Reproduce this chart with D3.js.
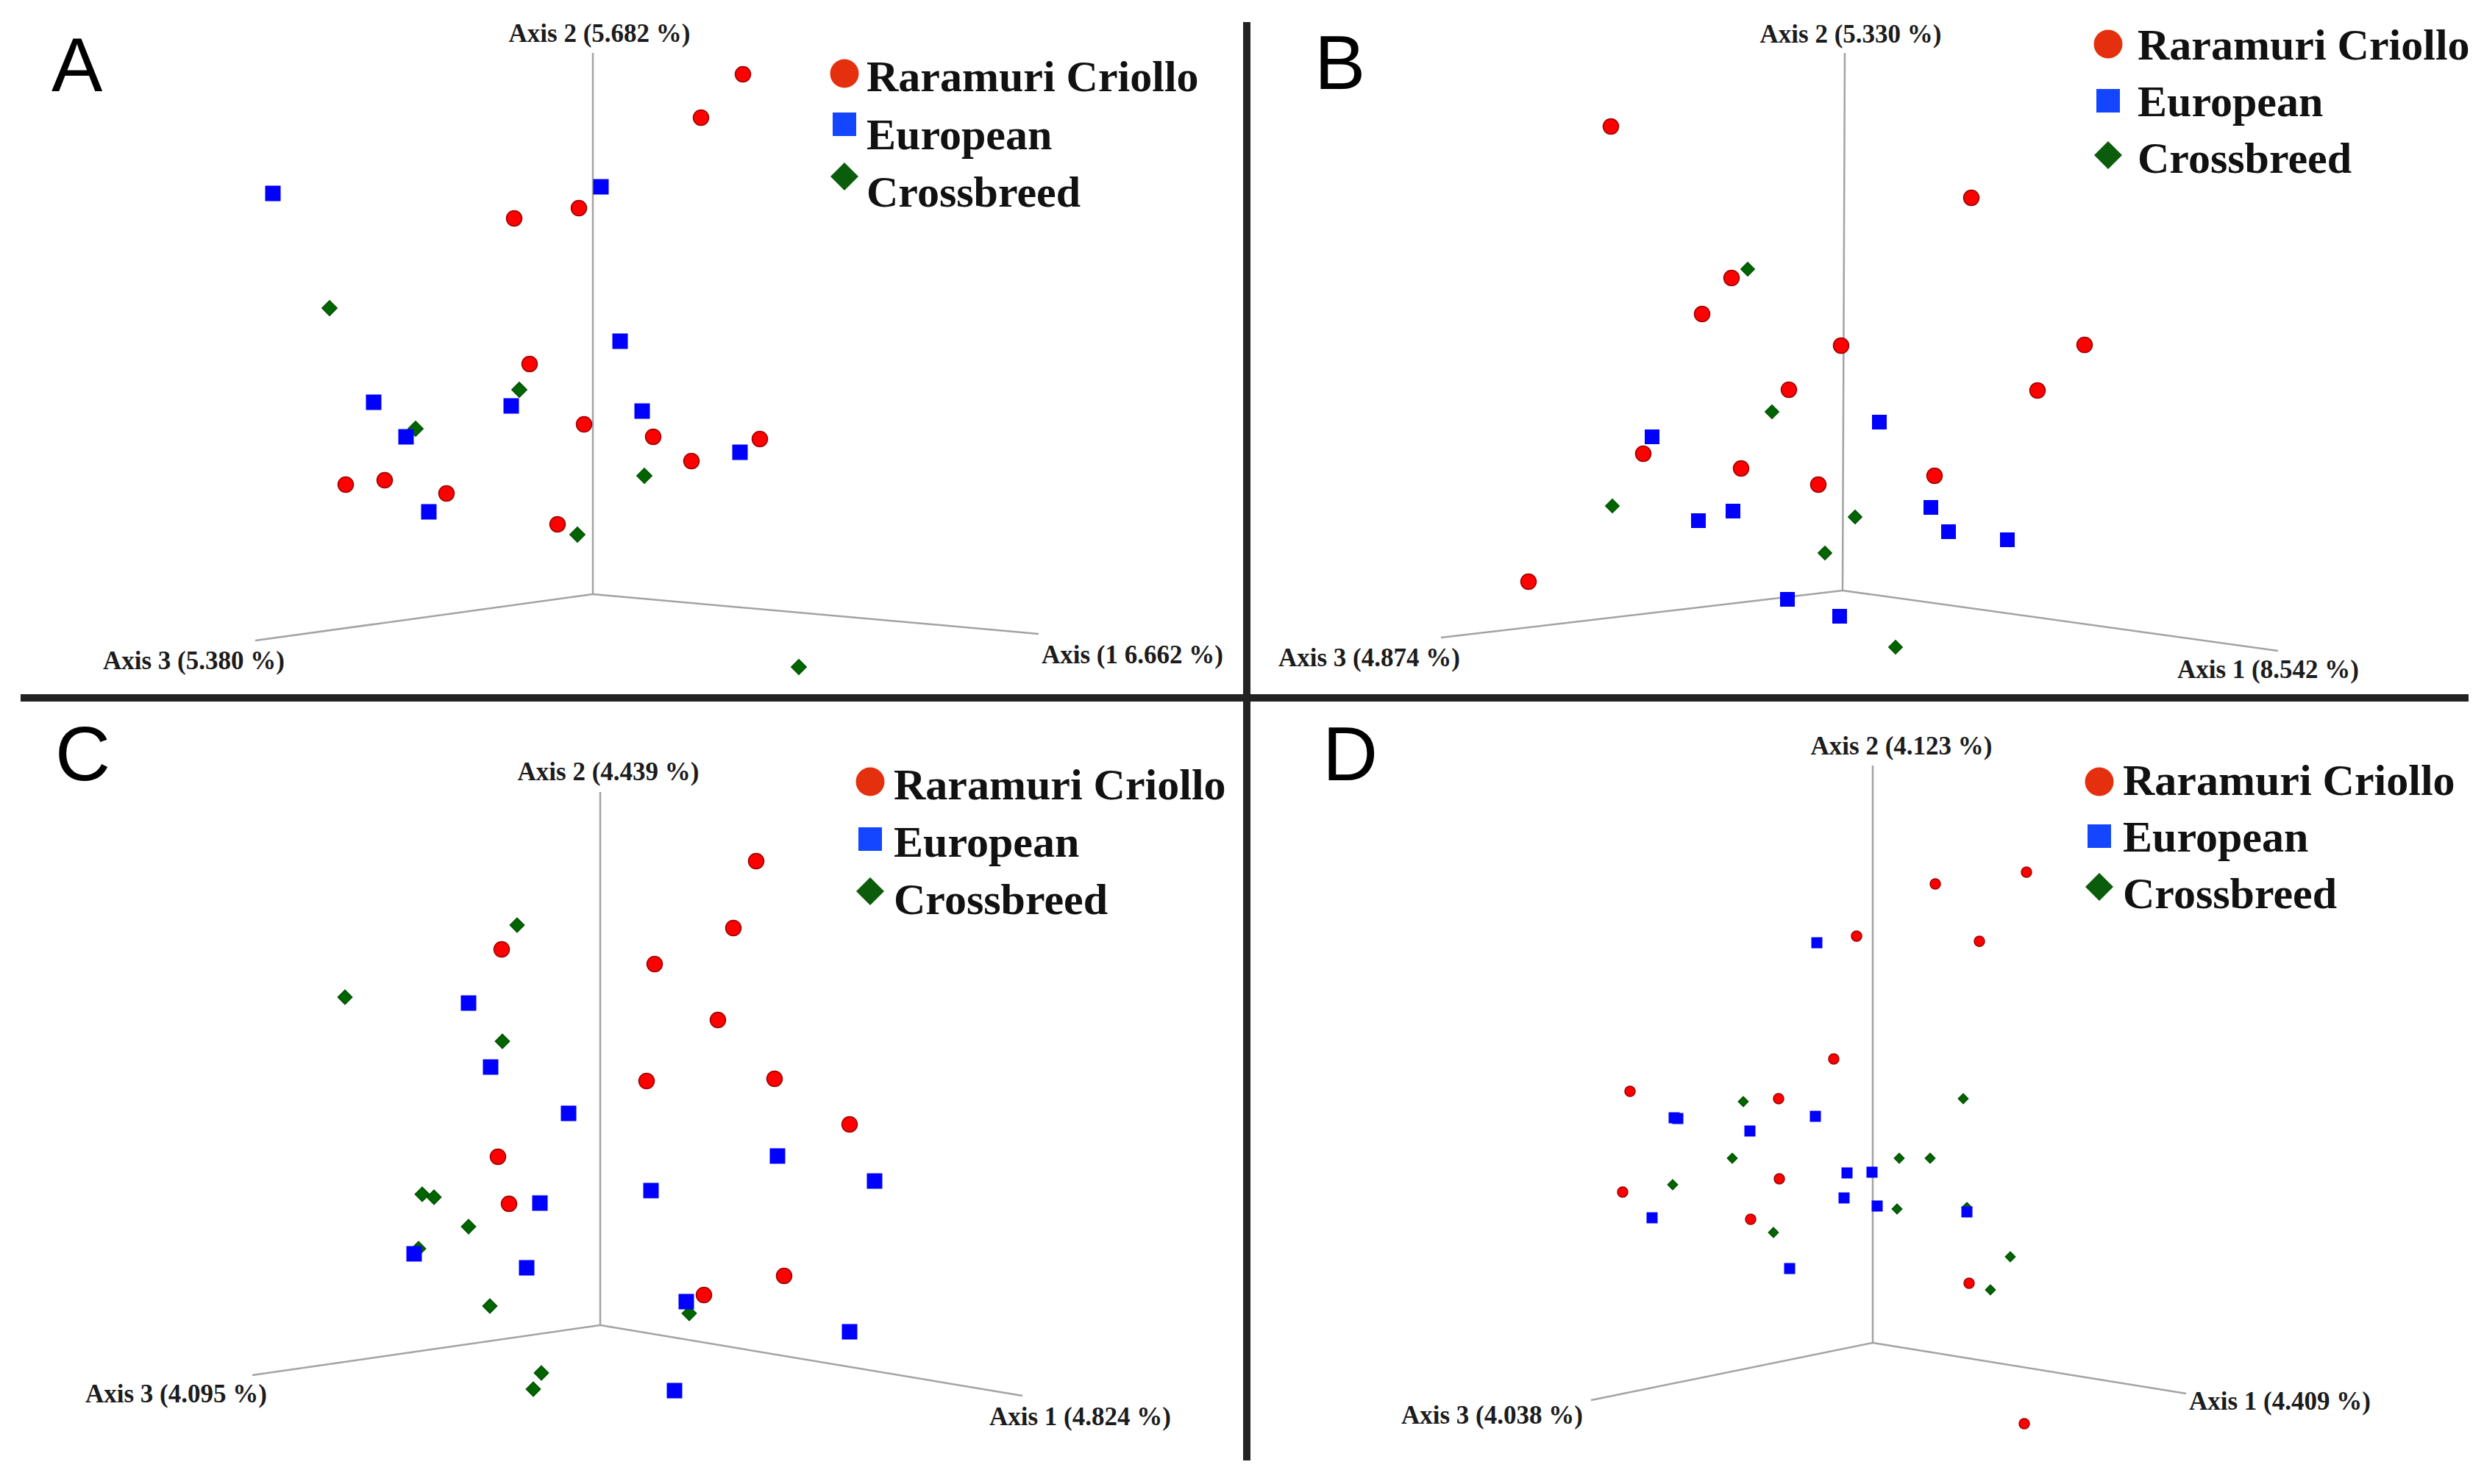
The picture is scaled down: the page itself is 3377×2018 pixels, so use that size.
<!DOCTYPE html>
<html>
<head>
<meta charset="utf-8">
<script src="https://cdn.jsdelivr.net/npm/d3@7"></script>
<style>
  body { margin: 0; background: #fff; }
</style>
</head>
<body>
<svg id="chart"></svg>
<script>
const groups = ["Raramuri Criollo", "European", "Crossbreed"];
const panelLetters = ["A", "B", "C", "D"];
const axis1Labels = ["Axis (1 6.662 %)", "Axis 1 (8.542 %)", "Axis 1 (4.824 %)", "Axis 1 (4.409 %)"];
const axis2Labels = ["Axis 2 (5.682 %)", "Axis 2 (5.330 %)", "Axis 2 (4.439 %)", "Axis 2 (4.123 %)"];
const axis3Labels = ["Axis 3 (5.380 %)", "Axis 3 (4.874 %)", "Axis 3 (4.095 %)", "Axis 3 (4.038 %)"];

// projected end points of the three PCoA axes (origin = 0,0)
const axis1Ends = [[6.06, -0.54], [5.92, -0.82], [5.74, -0.96], [4.26, -0.69]];
const axis2Ends = [[0, 7.36], [0.03, 7.31], [0, 7.25], [0, 7.85]];
const axis3Ends = [[-4.59, -0.63], [-5.46, -0.64], [-4.73, -0.68], [-3.83, -0.78]];

// projected scores, panel A
const criolloA = [[2.04, 7.07], [1.47, 6.48], [-0.19, 5.25], [-1.07, 5.11], [-0.86, 3.13], [-0.12, 2.31],
  [0.82, 2.14], [2.27, 2.11], [1.34, 1.81], [-3.36, 1.49], [-2.83, 1.55], [-1.99, 1.37], [-0.48, 0.95]];
const europeanA = [[-4.35, 5.45], [0.11, 5.54], [0.37, 3.44], [-2.98, 2.61], [-1.11, 2.56], [0.67, 2.49],
  [-2.54, 2.14], [2.00, 1.93], [-2.23, 1.12]];
const crossA = [[-3.58, 3.89], [-1.00, 2.78], [-2.41, 2.25], [0.70, 1.61], [-0.21, 0.81], [2.80, -0.99]];

// panel B
const criolloB = [[-3.15, 6.31], [1.75, 5.34], [-1.51, 4.25], [-1.91, 3.76], [-0.02, 3.33], [3.29, 3.34],
  [-0.73, 2.73], [2.65, 2.72], [-2.71, 1.86], [-1.38, 1.66], [-0.33, 1.44], [1.25, 1.56], [-4.27, 0.12]];
const europeanB = [[-2.59, 2.09], [0.50, 2.29], [-1.96, 0.95], [-1.49, 1.08], [1.20, 1.13], [1.44, 0.80],
  [2.24, 0.69], [-0.75, -0.12], [-0.04, -0.35]];
const crossB = [[-1.29, 4.37], [-0.96, 2.43], [-3.13, 1.15], [0.17, 1.00], [-0.24, 0.51], [0.72, -0.77]];

// panel C
const criolloC = [[2.12, 6.31], [1.81, 5.40], [-1.34, 5.11], [0.74, 4.91], [1.60, 4.15], [0.63, 3.32],
  [2.37, 3.35], [3.39, 2.73], [-1.39, 2.29], [-1.24, 1.65], [2.50, 0.67], [1.41, 0.41]];
const europeanC = [[-1.79, 4.38], [-1.49, 3.51], [-0.43, 2.88], [2.41, 2.30], [3.73, 1.96], [0.69, 1.83],
  [-0.82, 1.66], [-2.53, 0.97], [-1.00, 0.78], [1.17, 0.32], [3.39, -0.09], [1.01, -0.89]];
const crossC = [[-1.13, 5.44], [-3.47, 4.46], [-1.33, 3.86], [-2.42, 1.78], [-2.26, 1.74], [-1.79, 1.34],
  [-2.47, 1.04], [-1.50, 0.26], [1.21, 0.16], [-0.80, -0.65], [-0.91, -0.87]];

// panel D
const criolloD = [[2.09, 6.40], [0.85, 6.24], [-0.22, 5.53], [1.45, 5.46], [-0.53, 3.86], [-3.30, 3.42],
  [-1.28, 3.32], [-1.27, 2.23], [-3.40, 2.05], [-1.66, 1.68], [1.31, 0.81], [2.06, -1.10]];
const europeanD = [[-0.76, 5.44], [-2.70, 3.06], [-2.65, 3.05], [-0.78, 3.08], [-1.67, 2.88], [-0.35, 2.31],
  [-0.01, 2.32], [-0.39, 1.97], [0.06, 1.86], [1.28, 1.78], [-3.00, 1.70], [-1.13, 1.01]];
const crossD = [[1.23, 3.32], [-1.76, 3.28], [-1.91, 2.51], [0.36, 2.51], [0.78, 2.51], [-2.72, 2.15],
  [0.33, 1.82], [-1.35, 1.50], [1.87, 1.17], [1.60, 0.72], [1.28, 1.84]];

const criollo = [criolloA, criolloB, criolloC, criolloD];
const european = [europeanA, europeanB, europeanC, europeanD];
const cross = [crossA, crossB, crossC, crossD];

const width = 3377;
const height = 2018;

// layout of each panel: axis origin, marker sizes, label spots
const panels = [
  { ox: 806, oy: 808, r: 10.5, sq: 21, dia: 21,
    letter: [70, 124], a2: [815, 57], a3: [140, 910], a1: [1416, 902],
    legX: 1148, legTextX: 1178, legY: [100, 169, 240], legBase: [124, 203, 281] },
  { ox: 2505, oy: 803, r: 10.5, sq: 20, dia: 19,
    letter: [1787, 121], a2: [2516, 58], a3: [1738, 906], a1: [2960, 922],
    legX: 2866, legTextX: 2906, legY: [60, 137, 211], legBase: [81, 158, 235] },
  { ox: 816, oy: 1802, r: 10.5, sq: 21, dia: 20,
    letter: [75, 1061], a2: [827, 1061], a3: [116, 1907], a1: [1345, 1938],
    legX: 1183, legTextX: 1215, legY: [1063, 1141, 1212], legBase: [1087, 1165, 1243] },
  { ox: 2546, oy: 1826, r: 7, sq: 15, dia: 14,
    letter: [1798, 1061], a2: [2585, 1026], a3: [1905, 1936], a1: [2976, 1917],
    legX: 2854, legTextX: 2886, legY: [1063, 1137, 1206], legBase: [1081, 1158, 1235] },
];

const colors = { red: "#ff0000", redStroke: "#9a0000", blue: "#0000ff", green: "#006400", greenStroke: "#004a00" };
const legendColors = ["#e5300f", "#1446ff", "#0b5d0b"];
const serif = "'Liberation Serif', 'Times New Roman', serif";

const svg = d3.select("#chart")
  .attr("width", width)
  .attr("height", height)
  .attr("viewBox", [0, 0, width, height])
  .style("background", "#fff");

panels.forEach((p, i) => {
  const x = d3.scaleLinear().domain([-1, 1]).range([p.ox - 100, p.ox + 100]);
  const y = d3.scaleLinear().domain([-1, 1]).range([p.oy + 100, p.oy - 100]);
  const g = svg.append("g").attr("class", "panel-" + panelLetters[i]);

  // 3d axes
  g.append("g")
    .attr("stroke", "#a3a3a3")
    .attr("stroke-width", 2.5)
    .selectAll("line")
    .data([axis1Ends[i], axis2Ends[i], axis3Ends[i]])
    .join("line")
    .attr("x1", x(0))
    .attr("y1", y(0))
    .attr("x2", (d) => x(d[0]))
    .attr("y2", (d) => y(d[1]));

  // crossbreed
  g.append("g")
    .selectAll("path")
    .data(cross[i])
    .join("path")
    .attr("d", d3.symbol(d3.symbolSquare, (p.dia * p.dia) / 2))
    .attr("transform", (d) => `translate(${x(d[0])},${y(d[1])}) rotate(45)`)
    .attr("fill", colors.green)
    .attr("stroke", colors.greenStroke)
    .attr("stroke-width", 1);

  // raramuri criollo
  g.append("g")
    .selectAll("circle")
    .data(criollo[i])
    .join("circle")
    .attr("cx", (d) => x(d[0]))
    .attr("cy", (d) => y(d[1]))
    .attr("r", p.r)
    .attr("fill", colors.red)
    .attr("stroke", colors.redStroke)
    .attr("stroke-width", 1.5);

  // european
  g.append("g")
    .selectAll("rect")
    .data(european[i])
    .join("rect")
    .attr("x", (d) => x(d[0]) - p.sq / 2)
    .attr("y", (d) => y(d[1]) - p.sq / 2)
    .attr("width", p.sq)
    .attr("height", p.sq)
    .attr("fill", colors.blue);

  // axis titles
  const labels = g.append("g")
    .attr("font-family", serif)
    .attr("font-weight", "bold")
    .attr("font-size", 35)
    .attr("fill", "#1c1c1c");
  labels.append("text").attr("x", p.a2[0]).attr("y", p.a2[1]).attr("text-anchor", "middle").text(axis2Labels[i]);
  labels.append("text").attr("x", p.a3[0]).attr("y", p.a3[1]).text(axis3Labels[i]);
  labels.append("text").attr("x", p.a1[0]).attr("y", p.a1[1]).text(axis1Labels[i]);

  // panel letter
  g.append("text")
    .attr("x", p.letter[0])
    .attr("y", p.letter[1])
    .attr("font-family", "'Liberation Sans', Arial, sans-serif")
    .attr("font-size", 104)
    .attr("fill", "#000")
    .text(panelLetters[i]);

  // legend
  const leg = g.append("g");
  leg.append("circle").attr("cx", p.legX).attr("cy", p.legY[0]).attr("r", 19.5).attr("fill", legendColors[0]);
  leg.append("rect")
    .attr("x", p.legX - 16).attr("y", p.legY[1] - 16)
    .attr("width", 32).attr("height", 32)
    .attr("fill", legendColors[1]);
  leg.append("path")
    .attr("d", d3.symbol(d3.symbolSquare, (38 * 38) / 2))
    .attr("transform", `translate(${p.legX},${p.legY[2]}) rotate(45)`)
    .attr("fill", legendColors[2]);
  leg.selectAll("text")
    .data(groups)
    .join("text")
    .attr("x", p.legTextX)
    .attr("y", (d, k) => p.legBase[k])
    .attr("font-family", serif)
    .attr("font-weight", "bold")
    .attr("font-size", 60)
    .attr("fill", "#111")
    .text((d) => d);
});

// panel dividers
svg.append("g")
  .attr("stroke", "#222")
  .attr("stroke-width", 10)
  .call((g) => g.append("line").attr("x1", 1695).attr("x2", 1695).attr("y1", 30).attr("y2", 1986))
  .call((g) => g.append("line").attr("x1", 28).attr("x2", 3356).attr("y1", 949).attr("y2", 949));
</script>
</body>
</html>
